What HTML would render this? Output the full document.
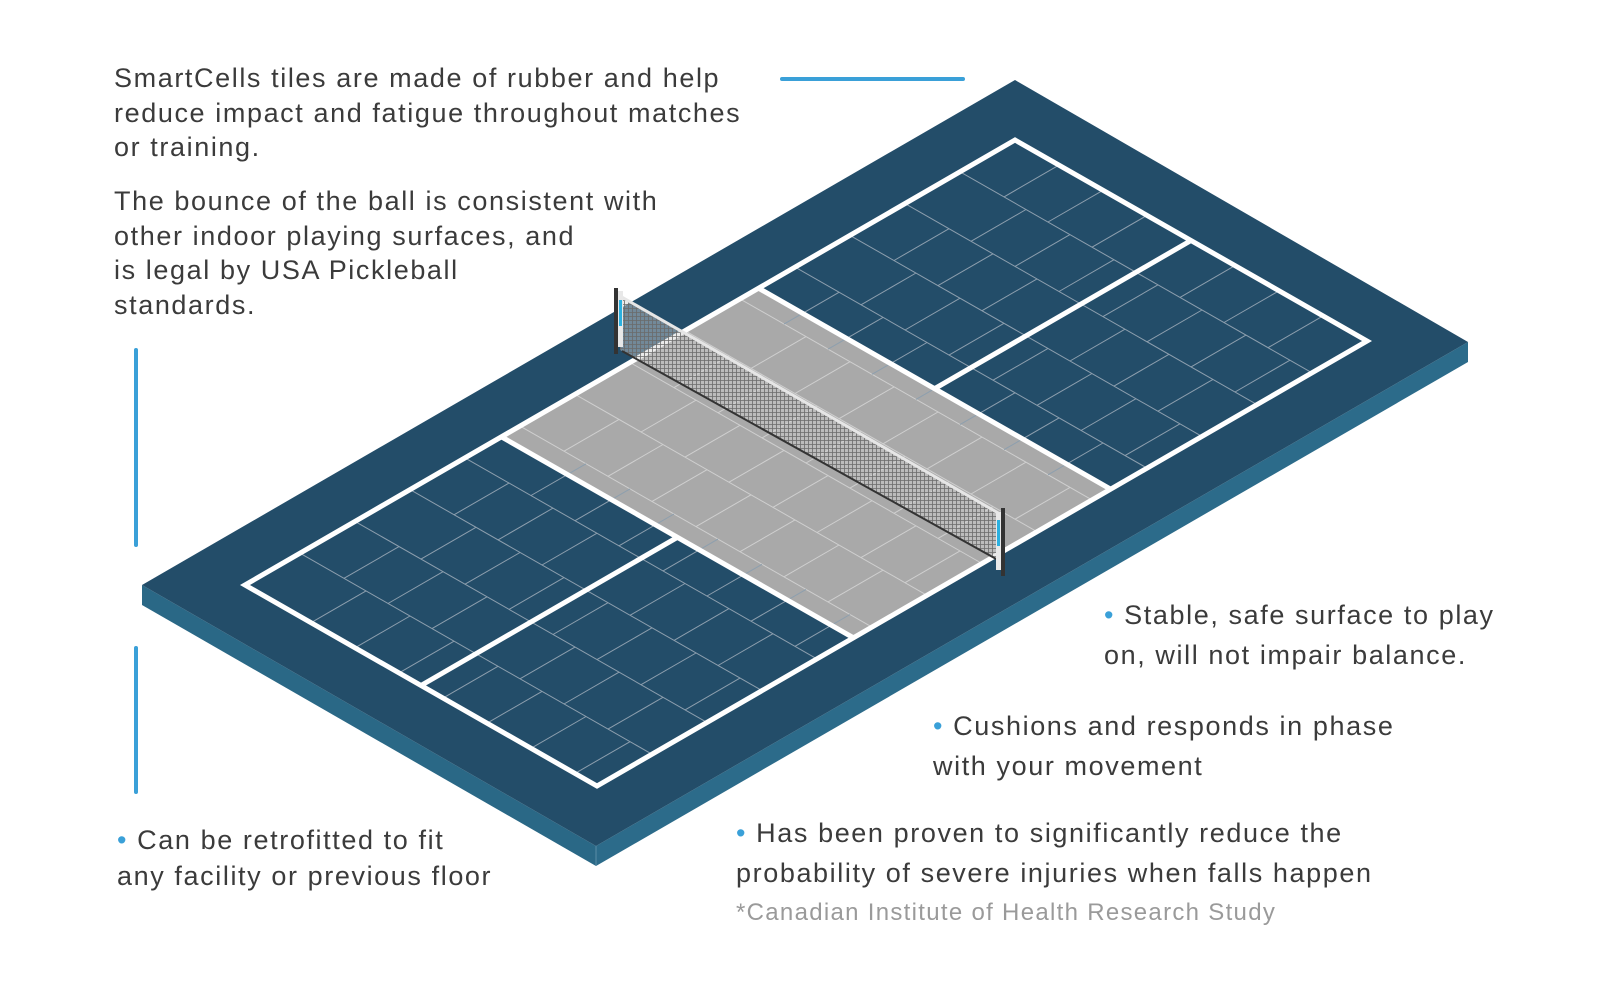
<!DOCTYPE html>
<html><head><meta charset="utf-8">
<style>
html,body{margin:0;padding:0;background:#fff;}
body{width:1600px;height:1000px;position:relative;overflow:hidden;font-family:"Liberation Sans",sans-serif;color:#3b3b3b;}
.t{position:absolute;font-size:27px;letter-spacing:1.6px;white-space:nowrap;}
.b{color:#3aa0d8;}
</style></head><body>
<svg width="1600" height="1000" style="position:absolute;left:0;top:0">
<defs>
<pattern id="mesh" width="4" height="4" patternUnits="userSpaceOnUse">
<rect width="4" height="4" fill="rgba(210,210,210,0.45)"/>
<path d="M0 0.5H4M0.5 0V4" stroke="#6a6a6a" stroke-width="0.8"/>
</pattern>
</defs>
<line x1="782" y1="79" x2="963" y2="79" stroke="#3aa0d8" stroke-width="4" stroke-linecap="round"/>
<line x1="136" y1="350" x2="136" y2="545" stroke="#3aa0d8" stroke-width="4" stroke-linecap="round"/>
<line x1="136" y1="648" x2="136" y2="792" stroke="#3aa0d8" stroke-width="4" stroke-linecap="round"/>
<polygon points="142,585 596,846 596,866 142,605" fill="#2a6886"/>
<polygon points="596,846 1468,342 1468,362 596,866" fill="#2c6b8a"/>
<line x1="596" y1="846" x2="596" y2="866" stroke="#5a8ca6" stroke-width="1"/>
<polygon points="1015,80 1468,342 596,846 142,585" fill="#234d69"/>
<g id="court" transform="matrix(-770,445,352,201,1015,140)">
<polygon points="0.333,0 0.667,0 0.667,1 0.333,1" fill="#a9a9a9"/>
</g>
<g id="lines" fill="none" stroke="#fff" stroke-width="5" stroke-linejoin="miter"></g>
<polygon points="620,296 1000,514 1000,560 620,350" fill="url(#mesh)"/>
<line x1="620" y1="296" x2="1000" y2="514" stroke="#e6e6e6" stroke-width="3"/>
<line x1="622" y1="351" x2="998" y2="560" stroke="#333" stroke-width="2"/>
<rect x="614" y="288" width="4" height="66" fill="#333"/>
<rect x="618" y="291" width="5" height="56" fill="#e8e8e8"/>
<rect x="619" y="300" width="3" height="26" fill="#2ab0e0"/>
<rect x="1001" y="508" width="4" height="68" fill="#333"/>
<rect x="996" y="512" width="5" height="58" fill="#e8e8e8"/>
<rect x="997" y="520" width="3" height="26" fill="#2ab0e0"/>
</svg>
<script>
(function(){
var NS="http://www.w3.org/2000/svg";
var M=[-770,445,352,201,1015,140];
function P(u,v){return [M[4]+M[0]*u+M[2]*v, M[5]+M[1]*u+M[3]*v];}
var svg=document.querySelector("svg");
var g=document.createElementNS(NS,"g");
svg.insertBefore(g,document.getElementById("lines"));
function L(u1,v1,u2,v2,col,w){
 var a=P(u1,v1),b=P(u2,v2);
 var l=document.createElementNS(NS,"line");
 l.setAttribute("x1",a[0].toFixed(1));l.setAttribute("y1",a[1].toFixed(1));
 l.setAttribute("x2",b[0].toFixed(1));l.setAttribute("y2",b[1].toFixed(1));
 l.setAttribute("stroke",col);l.setAttribute("stroke-width",w);
 g.appendChild(l);
}
function col(u){return (u>0.333&&u<0.667)?"#cfcfcf":"#8d9fae";}
var du=1/14;
for(var i=1;i<14;i++){var u=i*du;L(u,0,u,1,col(u-0.001),1);}
for(var i=0;i<14;i++){
 var u0=i*du,u1=(i+1)*du;
 var off=(i%2)?0.0625:0;
 for(var v=off+0.125;v<0.999;v+=0.125){L(u0,v,u1,v,col((u0+u1)/2),1);}
}
var lg=document.getElementById("lines");
function W(pts){
 var s=pts.map(function(p){var q=P(p[0],p[1]);return q[0].toFixed(1)+","+q[1].toFixed(1);}).join(" ");
 var pl=document.createElementNS(NS,"polygon");pl.setAttribute("points",s);lg.appendChild(pl);
}
W([[0,0],[1,0],[1,1],[0,1]]);
function WL(a,b){var l=document.createElementNS(NS,"polyline");var p=P(a[0],a[1]),q=P(b[0],b[1]);l.setAttribute("points",p.join(",")+" "+q.join(","));lg.appendChild(l);}
WL([0.333,0],[0.333,1]);WL([0.667,0],[0.667,1]);
WL([0,0.5],[0.333,0.5]);WL([0.667,0.5],[1,0.5]);
})();
</script>
<div class="t" style="left:114px;top:61px;line-height:34.5px;">SmartCells tiles are made of rubber and help<br>reduce impact and fatigue throughout matches<br>or training.</div>
<div class="t" style="left:114px;top:184px;line-height:34.5px;">The bounce of the ball is consistent with<br>other indoor playing surfaces, and<br>is legal by USA Pickleball<br>standards.</div>
<div class="t" style="left:1104px;top:595px;line-height:40px;"><span class="b">•</span> Stable, safe surface to play<br>on, will not impair balance.</div>
<div class="t" style="left:933px;top:706px;line-height:40px;"><span class="b">•</span> Cushions and responds in phase<br>with your movement</div>
<div class="t" style="left:736px;top:813px;line-height:40px;"><span class="b">•</span> Has been proven to significantly reduce the<br>probability of severe injuries when falls happen</div>
<div class="t" style="left:736px;top:897px;font-size:24px;letter-spacing:1.3px;line-height:32px;color:#9a9a9a;">*Canadian Institute of Health Research Study</div>
<div class="t" style="left:117px;top:822px;line-height:36px;"><span class="b">•</span> Can be retrofitted to fit<br>any facility or previous floor</div>
</body></html>
